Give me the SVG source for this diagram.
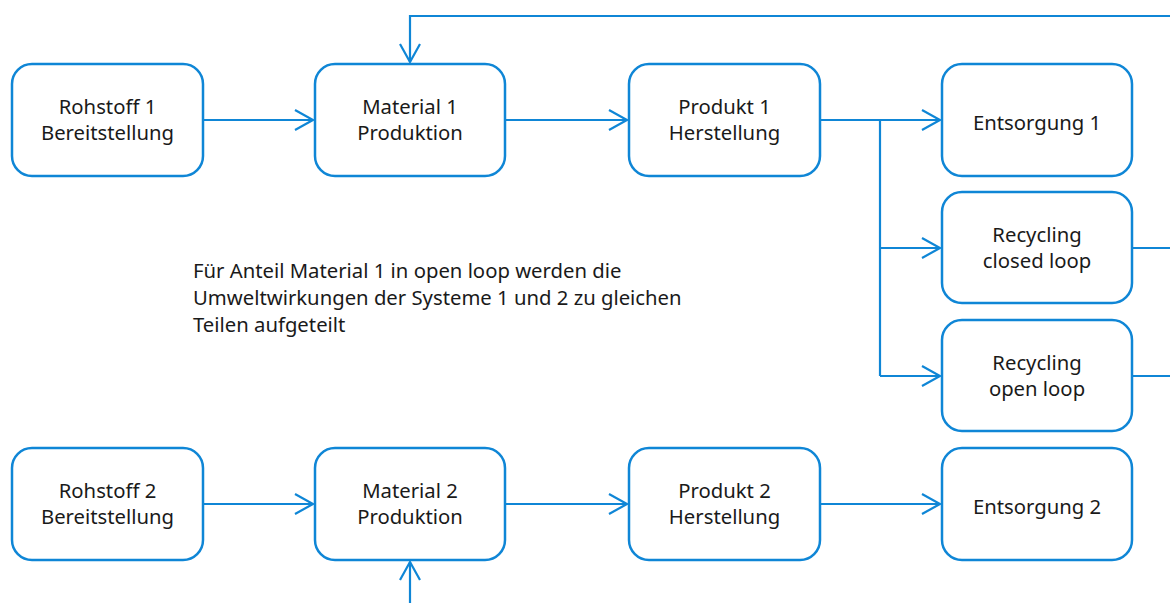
<svg xmlns="http://www.w3.org/2000/svg" width="1170" height="603" viewBox="0 0 1170 603">
<style>
.box{fill:#fff;stroke:#0f86d6;stroke-width:2.5}
.ln{fill:none;stroke:#0f86d6;stroke-width:2.2}
text{font-family:"Noto Sans","Liberation Sans",sans-serif;font-size:20.3px;fill:#1a1a1a}
.c{text-anchor:middle}
</style>
<defs>
<marker id="ah" markerUnits="userSpaceOnUse" markerWidth="24" markerHeight="24" viewBox="-20 -12 24 24" refX="0" refY="0" orient="auto">
<path d="M-18,-10 L0,0 L-18,10" fill="none" stroke="#0f86d6" stroke-width="2.2"/>
</marker>
</defs>
<rect width="1170" height="603" fill="#fff"/>
<g id="connectors">
<path class="ln" d="M203,120 H313" marker-end="url(#ah)"/>
<path class="ln" d="M505,120 H627" marker-end="url(#ah)"/>
<path class="ln" d="M820,120 H940" marker-end="url(#ah)"/>
<path class="ln" d="M880,120 V376"/>
<path class="ln" d="M880,248 H940" marker-end="url(#ah)"/>
<path class="ln" d="M880,376 H940" marker-end="url(#ah)"/>
<path class="ln" d="M1132,248 H1170"/>
<path class="ln" d="M1132,376 H1170"/>
<path class="ln" d="M1170,16 H410 V62" marker-end="url(#ah)"/>
<path class="ln" d="M203,504 H313" marker-end="url(#ah)"/>
<path class="ln" d="M505,504 H627" marker-end="url(#ah)"/>
<path class="ln" d="M820,504 H940" marker-end="url(#ah)"/>
<path class="ln" d="M410,603 V562" marker-end="url(#ah)"/>
</g>
<g id="rohstoff1"><rect class="box" x="12" y="64" width="191" height="112" rx="20"/><text class="c" x="107.5" y="114">Rohstoff 1</text><text class="c" x="107.5" y="140">Bereitstellung</text></g>
<g id="material1"><rect class="box" x="315" y="64" width="190" height="112" rx="20"/><text class="c" x="410" y="114">Material 1</text><text class="c" x="410" y="140">Produktion</text></g>
<g id="produkt1"><rect class="box" x="629" y="64" width="191" height="112" rx="20"/><text class="c" x="724.5" y="114">Produkt 1</text><text class="c" x="724.5" y="140">Herstellung</text></g>
<g id="entsorgung1"><rect class="box" x="942" y="64" width="190" height="112" rx="20"/><text class="c" x="1037" y="130">Entsorgung 1</text></g>
<g id="recycling-closed"><rect class="box" x="942" y="192" width="190" height="111" rx="20"/><text class="c" x="1037" y="242">Recycling</text><text class="c" x="1037" y="268">closed loop</text></g>
<g id="recycling-open"><rect class="box" x="942" y="320" width="190" height="111" rx="20"/><text class="c" x="1037" y="370">Recycling</text><text class="c" x="1037" y="396">open loop</text></g>
<g id="rohstoff2"><rect class="box" x="12" y="448" width="191" height="112" rx="20"/><text class="c" x="107.5" y="498">Rohstoff 2</text><text class="c" x="107.5" y="524">Bereitstellung</text></g>
<g id="material2"><rect class="box" x="315" y="448" width="190" height="112" rx="20"/><text class="c" x="410" y="498">Material 2</text><text class="c" x="410" y="524">Produktion</text></g>
<g id="produkt2"><rect class="box" x="629" y="448" width="191" height="112" rx="20"/><text class="c" x="724.5" y="498">Produkt 2</text><text class="c" x="724.5" y="524">Herstellung</text></g>
<g id="entsorgung2"><rect class="box" x="942" y="448" width="190" height="112" rx="20"/><text class="c" x="1037" y="514">Entsorgung 2</text></g>
<g id="note">
<text x="193" y="278">Für Anteil Material 1 in open loop werden die</text>
<text x="193" y="305">Umweltwirkungen der Systeme 1 und 2 zu gleichen</text>
<text x="193" y="332">Teilen aufgeteilt</text>
</g>
</svg>
